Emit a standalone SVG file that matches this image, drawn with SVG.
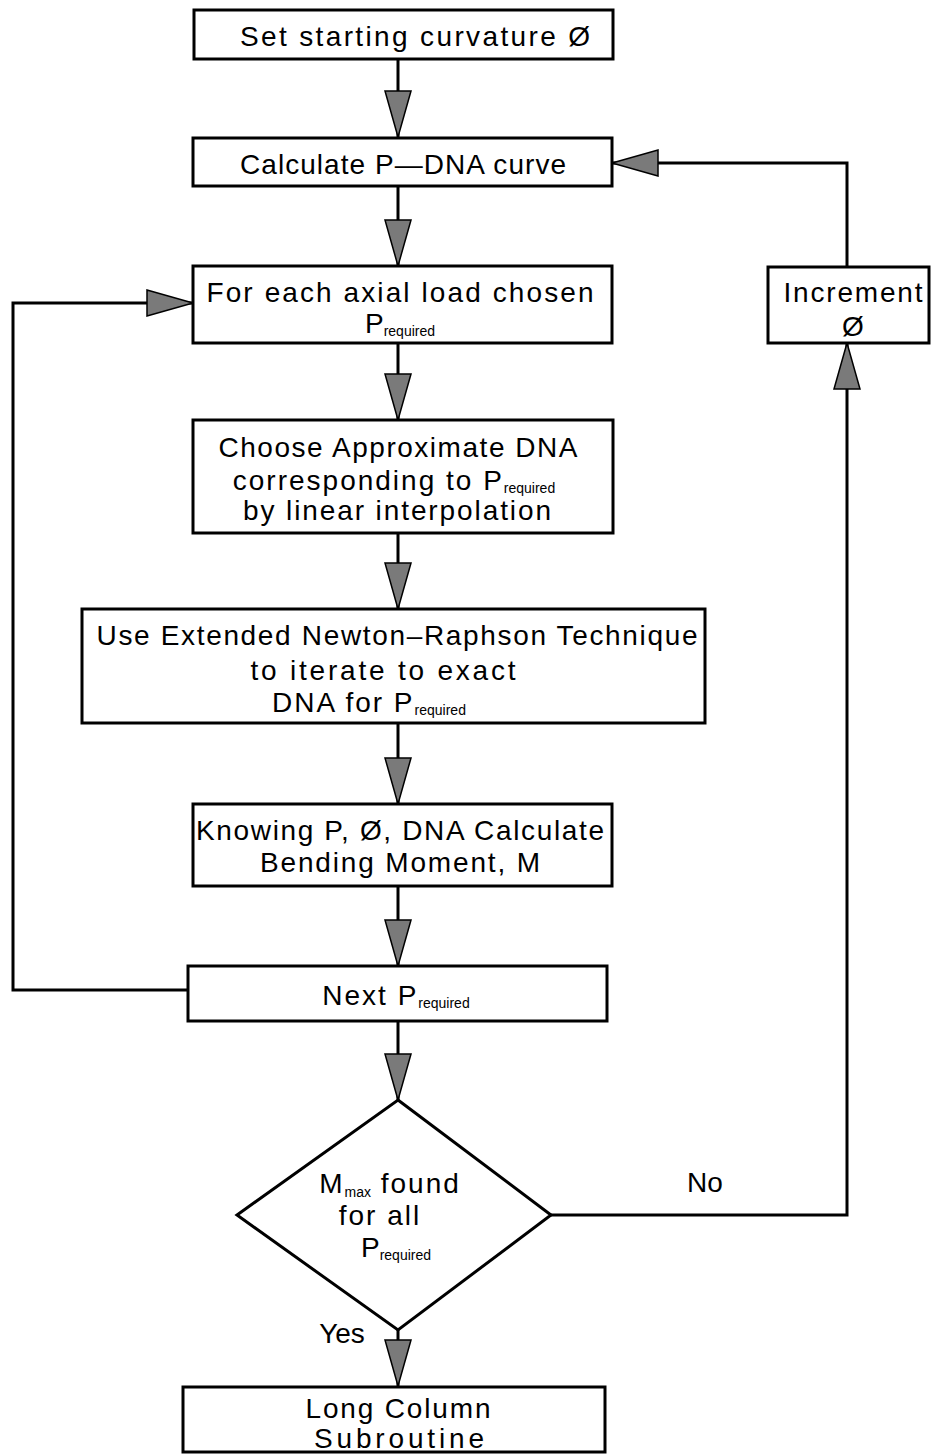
<svg xmlns="http://www.w3.org/2000/svg" width="931" height="1454" viewBox="0 0 931 1454">
<style>
.box{fill:#fff;stroke:#000;stroke-width:3}
.ln{fill:none;stroke:#000;stroke-width:3}
.t{font-family:"Liberation Sans",Arial,sans-serif;font-size:28px;fill:#000;text-anchor:middle}
.w{letter-spacing:2px}
.s{font-size:14px;letter-spacing:0}
</style>
<defs>
<marker id="ah" markerUnits="userSpaceOnUse" markerWidth="48" markerHeight="28" viewBox="-1 -1 48 28" refX="46" refY="13" orient="auto">
<path d="M0,0 L46,13 L0,26 Z" fill="#7a7a7a" stroke="#000" stroke-width="1.5"/>
</marker>
</defs>
<rect width="931" height="1454" fill="#fff"/>
<g id="connectors">
<line class="ln" x1="398" y1="59" x2="398" y2="137" marker-end="url(#ah)"/>
<line class="ln" x1="398" y1="186" x2="398" y2="266" marker-end="url(#ah)"/>
<line class="ln" x1="398" y1="343" x2="398" y2="420" marker-end="url(#ah)"/>
<line class="ln" x1="398" y1="533" x2="398" y2="609" marker-end="url(#ah)"/>
<line class="ln" x1="398" y1="723" x2="398" y2="804" marker-end="url(#ah)"/>
<line class="ln" x1="398" y1="886" x2="398" y2="966" marker-end="url(#ah)"/>
<line class="ln" x1="398" y1="1021" x2="398" y2="1100" marker-end="url(#ah)"/>
<line class="ln" x1="398" y1="1330" x2="398" y2="1386" marker-end="url(#ah)"/>
<polyline class="ln" points="188,990 13,990 13,303 193,303" marker-end="url(#ah)"/>
<polyline class="ln" points="551,1215 847,1215 847,343" marker-end="url(#ah)"/>
<polyline class="ln" points="847,267 847,163 612,163" marker-end="url(#ah)"/>
</g>
<g id="n1"><rect class="box" x="194" y="10" width="419" height="49"/>
<text class="t" x="415" y="46" textLength="350" lengthAdjust="spacing">Set starting curvature Ø</text></g>
<g id="n2"><rect class="box" x="193" y="138" width="419" height="48"/>
<text class="t" x="403" y="174" textLength="326" lengthAdjust="spacing">Calculate P—DNA curve</text></g>
<g id="n3"><rect class="box" x="193" y="266" width="419" height="77"/>
<text class="t" x="400" y="302" textLength="387" lengthAdjust="spacing">For each axial load chosen</text>
<text class="t" x="400" y="333">P<tspan class="s" dy="3">required</tspan></text></g>
<g id="n_inc"><rect class="box" x="768" y="267" width="161" height="76"/>
<text class="t" x="853" y="302" textLength="139" lengthAdjust="spacing">Increment</text>
<text class="t" x="853" y="336">Ø</text></g>
<g id="n4"><rect class="box" x="193" y="420" width="420" height="113"/>
<text class="t" x="398" y="457" textLength="359" lengthAdjust="spacing">Choose Approximate DNA</text>
<text class="t w" x="394" y="490">corresponding to P<tspan class="s" dy="3">required</tspan></text>
<text class="t" x="397" y="520" textLength="308" lengthAdjust="spacing">by linear interpolation</text></g>
<g id="n5"><rect class="box" x="82" y="609" width="623" height="114"/>
<text class="t" x="397" y="645" textLength="601" lengthAdjust="spacing">Use Extended Newton–Raphson Technique</text>
<text class="t" x="383" y="680" textLength="265" lengthAdjust="spacing">to iterate to exact</text>
<text class="t w" x="369" y="712">DNA for P<tspan class="s" dy="3">required</tspan></text></g>
<g id="n6"><rect class="box" x="193" y="804" width="419" height="82"/>
<text class="t" x="400" y="840" textLength="408" lengthAdjust="spacing">Knowing P, Ø, DNA Calculate</text>
<text class="t" x="400" y="872" textLength="280" lengthAdjust="spacing">Bending Moment, M</text></g>
<g id="n7"><rect class="box" x="188" y="966" width="419" height="55"/>
<text class="t w" x="396" y="1005">Next P<tspan class="s" dy="3">required</tspan></text></g>
<g id="n8"><polygon class="box" points="398,1100 551,1215 398,1330 237,1215"/>
<text class="t w" x="390" y="1193">M<tspan class="s" dy="4">max</tspan><tspan dy="-4"> found</tspan></text>
<text class="t w" x="380" y="1225">for all</text>
<text class="t" x="396" y="1257">P<tspan class="s" dy="3">required</tspan></text></g>
<g id="labels">
<text class="t" x="705" y="1192">No</text>
<text class="t" x="342" y="1343">Yes</text>
</g>
<g id="n9"><rect class="box" x="183" y="1387" width="422" height="65"/>
<text class="t" x="398" y="1418" textLength="185" lengthAdjust="spacing">Long Column</text>
<text class="t" x="399" y="1448" textLength="170" lengthAdjust="spacing">Subroutine</text></g>
</svg>
